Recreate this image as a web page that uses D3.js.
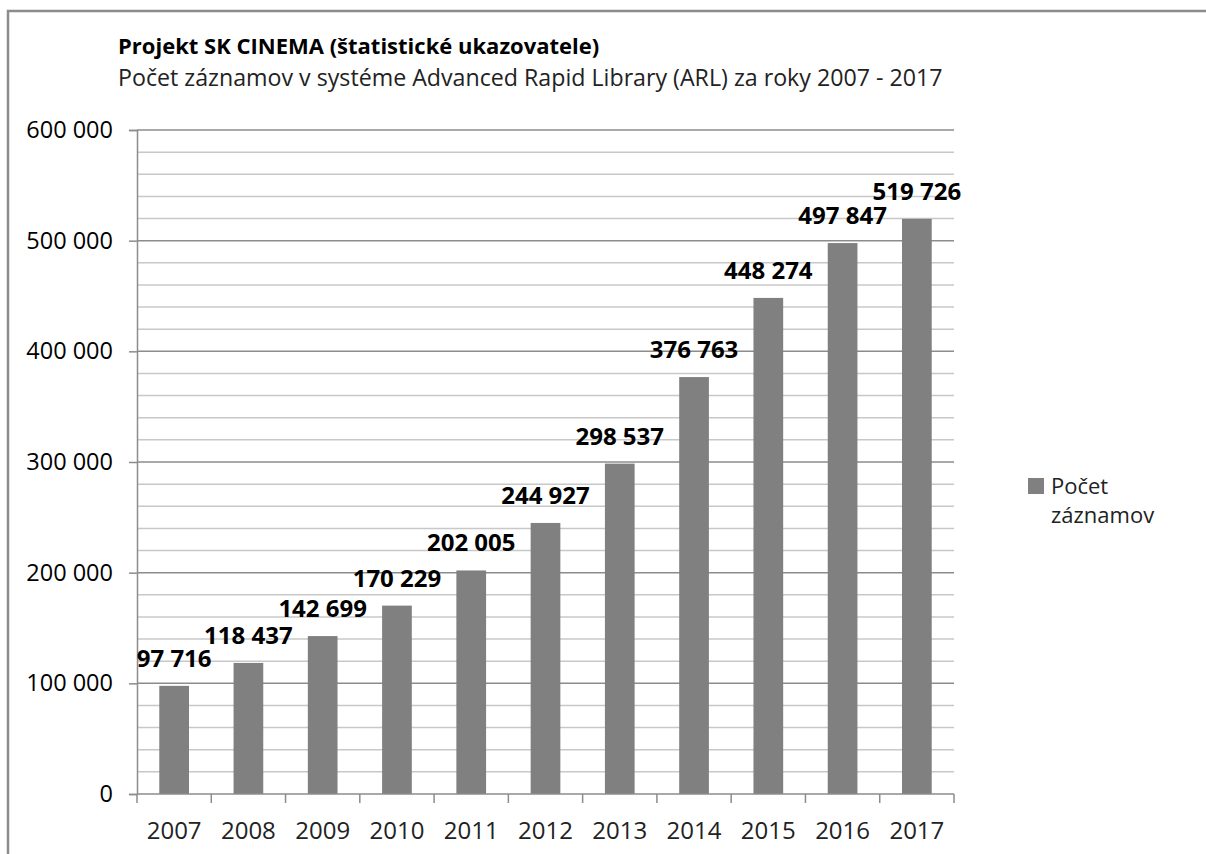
<!DOCTYPE html>
<html>
<head>
<meta charset="utf-8">
<script src="https://cdn.jsdelivr.net/npm/d3@7"></script>
<style>
  body { margin: 0; background: #fff; }
  text { font-family: "Open Sans", sans-serif; fill: #000; }
</style>
</head>
<body>
<svg id="chart" width="1206" height="854"></svg>
<script>
// data
var years = ['2007','2008','2009','2010','2011','2012','2013','2014','2015','2016','2017']
var values = [97716, 118437, 142699, 170229, 202005, 244927, 298537, 376763, 448274, 497847, 519726]
var yTicks = [0, 100000, 200000, 300000, 400000, 500000, 600000]
var seriesName = ['Počet', 'záznamov']
var title = 'Projekt SK CINEMA (štatistické ukazovatele)'
var subtitle = 'Počet záznamov v systéme Advanced Rapid Library (ARL) za roky 2007 - 2017'

var svg = d3.select('#chart')
var loc = d3.formatLocale({decimal: ',', thousands: ' ', grouping: [3], currency: ['', '']})
var fmt = loc.format(',d')

// outer frame (cut off on right and bottom like the screenshot)
svg.append('rect').attr('x', 8).attr('y', 11).attr('width', 1400).attr('height', 1000)
  .attr('fill', 'none').attr('stroke', '#8c8c8c').attr('stroke-width', 2.5)

svg.append('text').attr('x', 118).attr('y', 54).style('font-size', '22px').style('font-weight', 'bold').text(title)
svg.append('text').attr('x', 118).attr('y', 86).style('font-size', '23.2px').style('fill', '#222').text(subtitle)

var pLeft = 137, pRight = 954, pTop = 130, pBottom = 794
var x = d3.scaleBand().domain(years).range([pLeft, pRight]).paddingInner(0.6).paddingOuter(0.3)
var y = d3.scaleLinear().domain([0, 600000]).range([pBottom, pTop])

// minor gridlines every 20 000
var minor = d3.range(20000, 600001, 20000).filter(v => v % 100000 != 0)
svg.append('g').selectAll('line').data(minor).join('line')
  .attr('x1', pLeft).attr('x2', pRight).attr('y1', d => y(d)).attr('y2', d => y(d))
  .attr('stroke', '#c8c8c8').attr('stroke-width', 1.5)

// major gridlines
svg.append('g').selectAll('line').data(yTicks.slice(1)).join('line')
  .attr('x1', pLeft).attr('x2', pRight).attr('y1', d => y(d)).attr('y2', d => y(d))
  .attr('stroke', '#8c8c8c').attr('stroke-width', 1.5)

// y axis
var yAxis = svg.append('g').attr('transform', 'translate(' + pLeft + ',0)')
  .call(d3.axisLeft(y).tickValues(yTicks).tickFormat(fmt).tickSize(8).tickPadding(16))
yAxis.select('.domain').attr('stroke', '#8c8c8c').attr('stroke-width', 1.5)
yAxis.selectAll('.tick line').attr('stroke', '#8c8c8c').attr('stroke-width', 1.5)
yAxis.selectAll('text').style('font-family', '"Open Sans", sans-serif').style('font-size', '23.5px').attr('fill', '#222')

// bars
svg.append('g').selectAll('rect').data(values).join('rect')
  .attr('x', (d, i) => x(years[i])).attr('width', x.bandwidth())
  .attr('y', d => y(d)).attr('height', d => pBottom - y(d))
  .attr('fill', '#808080')

// x axis
var step = x.step()
svg.append('line').attr('x1', pLeft).attr('x2', pRight).attr('y1', pBottom).attr('y2', pBottom)
  .attr('stroke', '#8c8c8c').attr('stroke-width', 1.5)
svg.append('g').selectAll('line').data(d3.range(years.length + 1)).join('line')
  .attr('x1', i => pLeft + i * step).attr('x2', i => pLeft + i * step)
  .attr('y1', pBottom).attr('y2', pBottom + 9)
  .attr('stroke', '#8c8c8c').attr('stroke-width', 1.5)
svg.append('g').selectAll('text').data(years).join('text')
  .attr('x', d => x(d) + x.bandwidth() / 2).attr('y', 839)
  .attr('text-anchor', 'middle').style('font-size', '24px').style('fill', '#222')
  .text(d => d)

// data labels
svg.append('g').selectAll('text').data(values).join('text')
  .attr('x', (d, i) => x(years[i]) + x.bandwidth() / 2).attr('y', d => y(d) - 19)
  .attr('text-anchor', 'middle').style('font-size', '24px').style('font-weight', 'bold')
  .text(d => fmt(d))

// legend
var lg = svg.append('g').attr('transform', 'translate(1028,478)')
lg.append('rect').attr('width', 16).attr('height', 16).attr('fill', '#808080')
lg.selectAll('text').data(seriesName).join('text')
  .attr('x', 23).attr('y', (d, i) => 16 + i * 29)
  .style('font-size', '22px').style('fill', '#222').text(d => d)
</script>
</body>
</html>
